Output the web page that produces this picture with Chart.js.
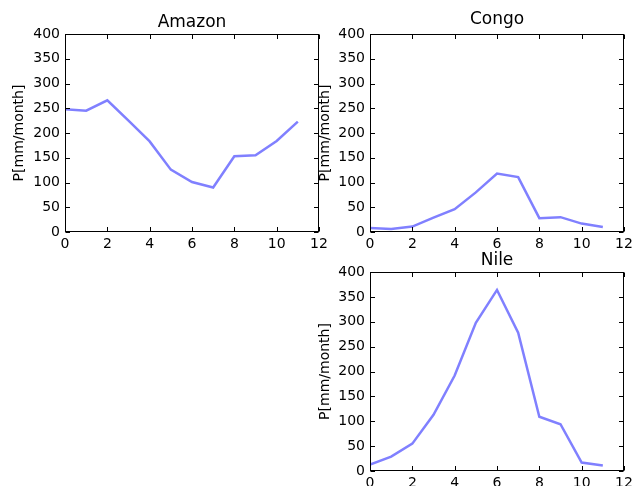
<!DOCTYPE html>
<html>
<head>
<meta charset="utf-8">
<script src="https://cdn.jsdelivr.net/npm/chart.js@4/dist/chart.umd.min.js"></script>
<style>
  html, body { margin: 0; padding: 0; background: #ffffff; overflow: hidden; }
  body { width: 633px; height: 486px; position: relative; }
  canvas { position: absolute; }
</style>
</head>
<body>
<canvas id="amazon" width="330" height="252" style="left:0px;top:0px"></canvas>
<canvas id="congo" width="328" height="252" style="left:305px;top:0px"></canvas>
<canvas id="nile" width="328" height="251" style="left:305px;top:240px"></canvas>
<script>
// Monthly precipitation, month index 0..11
const months = [0, 1, 2, 3, 4, 5, 6, 7, 8, 9, 10, 11];
const amazonP = [248, 245, 266, 225, 183, 126, 101, 90, 153, 155, 184, 223];
const congoP  = [8, 6, 11, 29, 46, 80, 118, 111, 28, 30, 17, 10];
const nileP   = [13, 29, 55, 113, 192, 298, 364, 278, 109, 94, 17, 11];

const xTicks = [0, 2, 4, 6, 8, 10, 12];
const yTicks = [0, 50, 100, 150, 200, 250, 300, 350, 400];
const yLabel = 'P[mm/month]';

const FONT = 'DejaVu Sans';
const LINE_COLOR = '#8080ff';

// Axes frame with inward tick marks on all four sides
const framePlugin = {
  id: 'frame',
  afterDatasetsDraw(chart) {
    const { ctx, chartArea: a, scales: { x, y } } = chart;
    const L = Math.round(a.left) + 0.5, R = Math.round(a.right) - 0.5;
    const T = Math.round(a.top) + 0.5, B = Math.round(a.bottom) - 0.5;
    const len = 4.5;
    ctx.save();
    ctx.strokeStyle = '#000000';
    ctx.lineWidth = 1;
    ctx.beginPath();
    x.ticks.forEach(t => {
      const px = Math.round(x.getPixelForValue(t.value)) + 0.5;
      ctx.moveTo(px, B); ctx.lineTo(px, B - len);
      ctx.moveTo(px, T); ctx.lineTo(px, T + len);
    });
    y.ticks.forEach(t => {
      const py = Math.round(y.getPixelForValue(t.value)) + 0.5;
      ctx.moveTo(L, py); ctx.lineTo(L + len, py);
      ctx.moveTo(R, py); ctx.lineTo(R - len, py);
    });
    ctx.stroke();
    ctx.strokeRect(L, T, R - L, B - T);
    ctx.restore();
  }
};

function makeChart(id, title, values, opt) {
  return new Chart(document.getElementById(id), {
    type: 'line',
    data: {
      datasets: [{
        data: months.map((m, i) => ({ x: m, y: values[i] })),
        borderColor: LINE_COLOR,
        borderWidth: 2.5,
        pointRadius: 0,
        tension: 0,
        fill: false
      }]
    },
    options: {
      responsive: false,
      animation: false,
      devicePixelRatio: 1,
      events: [],
      layout: { padding: { left: 0, right: opt.padRight, top: 0, bottom: 0 } },
      plugins: {
        legend: { display: false },
        tooltip: { enabled: false },
        title: { display: false }
      },
      scales: {
        x: {
          type: 'linear',
          min: 0,
          max: 12,
          afterBuildTicks: s => { s.ticks = xTicks.map(v => ({ value: v })); },
          afterFit: s => { s.height = 20; s.paddingLeft = 0; s.paddingRight = 0; },
          ticks: {
            color: '#000000',
            font: { family: FONT, size: 14 },
            padding: 4,
            maxRotation: 0,
            autoSkip: false
          },
          grid: { display: false, drawTicks: false },
          border: { display: false }
        },
        // top axis carries only the panel title, centred over the plot area
        xTop: {
          type: 'linear',
          axis: 'x',
          position: 'top',
          min: 0,
          max: 12,
          afterFit: s => { s.height = opt.topH; s.paddingLeft = 0; s.paddingRight = 0; },
          ticks: { display: false },
          grid: { display: false, drawTicks: false },
          border: { display: false },
          title: {
            display: true,
            text: title,
            color: '#000000',
            font: { family: FONT, size: 17, weight: 'normal', lineHeight: 1.2 },
            padding: { top: opt.titleTop, bottom: 0 }
          }
        },
        y: {
          type: 'linear',
          min: 0,
          max: 400,
          afterBuildTicks: s => { s.ticks = yTicks.map(v => ({ value: v })); },
          afterFit: s => { s.width = 65; s.paddingTop = 0; s.paddingBottom = 0; },
          ticks: {
            color: '#000000',
            font: { family: FONT, size: 14 },
            padding: 5,
            autoSkip: false
          },
          title: {
            display: true,
            text: yLabel,
            color: '#000000',
            font: { family: FONT, size: 14, lineHeight: 1.2 },
            padding: { top: opt.yTitlePad, bottom: 0 }
          },
          grid: { display: false, drawTicks: false },
          border: { display: false }
        }
      }
    },
    plugins: [framePlugin]
  });
}

makeChart('amazon', 'Amazon', amazonP, { topH: 34, titleTop: 12, yTitlePad: 10.8, padRight: 11 });
makeChart('congo', 'Congo', congoP, { topH: 34, titleTop: 9.3, yTitlePad: 12.4, padRight: 9 });
makeChart('nile', 'Nile', nileP, { topH: 32, titleTop: 10.3, yTitlePad: 11.8, padRight: 9 });
</script>
</body>
</html>
